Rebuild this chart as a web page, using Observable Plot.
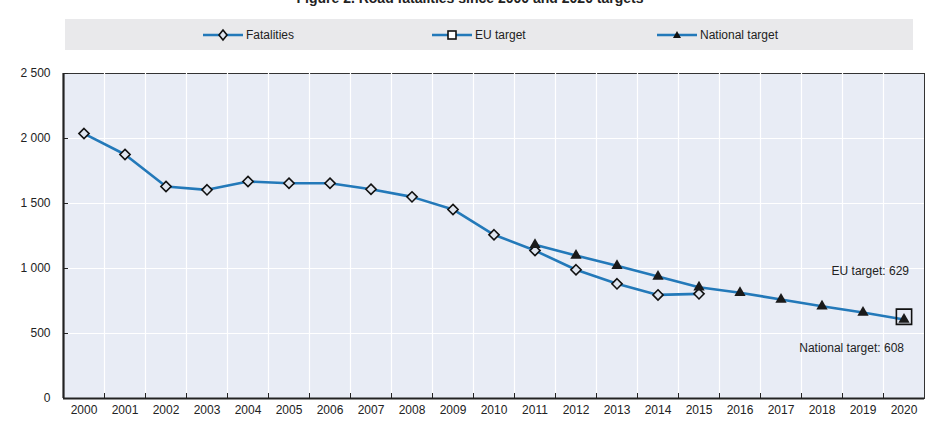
<!DOCTYPE html>
<html>
<head>
<meta charset="utf-8">
<script src="https://cdn.jsdelivr.net/npm/d3@7"></script>
<script src="https://cdn.jsdelivr.net/npm/@observablehq/plot@0.6"></script>
<style>
  html, body { margin: 0; padding: 0; background: #fff; width: 940px; height: 430px; overflow: hidden; }
  body { position: relative; font-family: "Liberation Sans Narrow", "Arial Narrow", "Liberation Sans", sans-serif; color: #222; }
  #title { position: absolute; top: -10px; left: 0; width: 940px; text-align: center; font-weight: bold; font-size: 14px; color: #222; }
  #legend { position: absolute; left: 65px; top: 19px; width: 848px; height: 31px; background: #e9e9eb; }
  .item { position: absolute; top: 0; height: 31px; display: flex; align-items: center; font-size: 12px; }
  .item svg { margin-right: 3px; }
  #chart { position: absolute; left: 0; top: 50px; }
</style>
</head>
<body>
<div id="title">Figure 2. Road fatalities since 2000 and 2020 targets</div>
<div id="legend"></div>
<div id="chart"></div>
<script>
// ---- data ----
const years = [2000, 2001, 2002, 2003, 2004, 2005, 2006, 2007, 2008, 2009, 2010,
               2011, 2012, 2013, 2014, 2015, 2016, 2017, 2018, 2019, 2020];
const fatalityYears = [2000, 2001, 2002, 2003, 2004, 2005, 2006, 2007, 2008, 2009, 2010,
                       2011, 2012, 2013, 2014, 2015];
const fatalities = [2038, 1877, 1631, 1605, 1669, 1656, 1656, 1610, 1551, 1454, 1259,
                    1138, 990, 882, 797, 805];
const nationalYears = [2011, 2012, 2013, 2014, 2015, 2016, 2017, 2018, 2019, 2020];
const nationalTarget = [1182, 1100, 1021, 938, 856, 813, 762, 710, 662, 608];
const euYears = [2020];
const euTarget = [629];
const yTicks = [0, 500, 1000, 1500, 2000, 2500];
const seriesNames = ["Fatalities", "EU target", "National target"];

const fatalData = fatalityYears.map((y, i) => ({year: y, value: fatalities[i]}));
const natData = nationalYears.map((y, i) => ({year: y, value: nationalTarget[i]}));
const euData = euYears.map((y, i) => ({year: y, value: euTarget[i]}));
const boundaries = years.slice(0, -1).map(y => y + 0.5);

const blue = "#2379b9";
const bg = "#e8ecf5";
const fmt = d => d3.format(",")(d).replace(/,/g, " ");

// ---- legend ----
const legendPos = [138, 367, 592];
const legendSym = [
  '<path d="M20,4 L24,9 L20,14 L16,9 Z" fill="#dfe5ef" stroke="#111" stroke-width="1.6"/>',
  '<rect x="16" y="5" width="8" height="8" fill="#fff" stroke="#111" stroke-width="1.6"/>',
  '<path d="M20,5 L24,12 L16,12 Z" fill="#111"/>'
];
const legend = document.getElementById("legend");
seriesNames.forEach((name, i) => {
  const d = document.createElement("div");
  d.className = "item";
  d.style.left = legendPos[i] + "px";
  d.innerHTML = `<svg width="40" height="18"><line x1="0" x2="40" y1="9" y2="9" stroke="${blue}" stroke-width="2.5"/>${legendSym[i]}</svg><span>${name}</span>`;
  legend.appendChild(d);
});

// ---- chart ----
const chart = Plot.plot({
  width: 940,
  height: 380,
  marginLeft: 63,
  marginRight: 16,
  marginTop: 23,
  marginBottom: 32,
  style: {fontFamily: '"Liberation Sans Narrow", "Arial Narrow", "Liberation Sans", sans-serif', fontSize: "12px", color: "#222", background: "transparent"},
  x: {domain: [1999.5, 2020.5], axis: null},
  y: {domain: [0, 2500], axis: null},
  marks: [
    Plot.frame({fill: bg, stroke: "#333", strokeWidth: 1}),
    Plot.ruleY(yTicks.slice(1, -1), {stroke: "#fff", strokeWidth: 1.2}),
    Plot.ruleX(boundaries, {stroke: "#fff", strokeWidth: 1.2}),
    Plot.axisX(years, {label: null, tickSize: 0, tickPadding: 7, tickFormat: d => String(d)}),
    Plot.axisX(boundaries, {label: null, tickSize: -5, tickFormat: () => "", stroke: "#222"}),
    Plot.axisY(yTicks, {label: null, tickSize: 0, tickPadding: 13, tickFormat: fmt}),
    Plot.axisY(yTicks, {label: null, tickSize: -5, tickFormat: () => "", stroke: "#222"}),
    Plot.ruleX([1999.5], {stroke: "#222", strokeWidth: 2.2}),
    Plot.ruleY([0], {stroke: "#222", strokeWidth: 2.2}),
    Plot.line(natData, {x: "year", y: "value", stroke: blue, strokeWidth: 2.6}),
    Plot.line(fatalData, {x: "year", y: "value", stroke: blue, strokeWidth: 2.6}),
    Plot.dot(fatalData, {x: "year", y: "value", symbol: "diamond2", r: 4.6, stroke: "#111", strokeWidth: 1.6, fill: "#dfe5ef"}),
    Plot.dot(natData, {x: "year", y: "value", symbol: "triangle", r: 4.2, fill: "#1a1a1a"}),
    Plot.dot(euData, {x: "year", y: "value", symbol: "square", r: 8.6, stroke: "#111", strokeWidth: 1.6, fill: "none"}),
    Plot.text(euData, {x: "year", y: "value", text: d => `EU target: ${d.value}`, textAnchor: "end", dx: 5, dy: -46, fontSize: 12, fill: "#222"}),
    Plot.text(natData.slice(-1), {x: "year", y: "value", text: d => `National target: ${d.value}`, textAnchor: "end", dx: 0, dy: 29, fontSize: 12, fill: "#222"})
  ]
});
document.getElementById("chart").appendChild(chart);
</script>
</body>
</html>
